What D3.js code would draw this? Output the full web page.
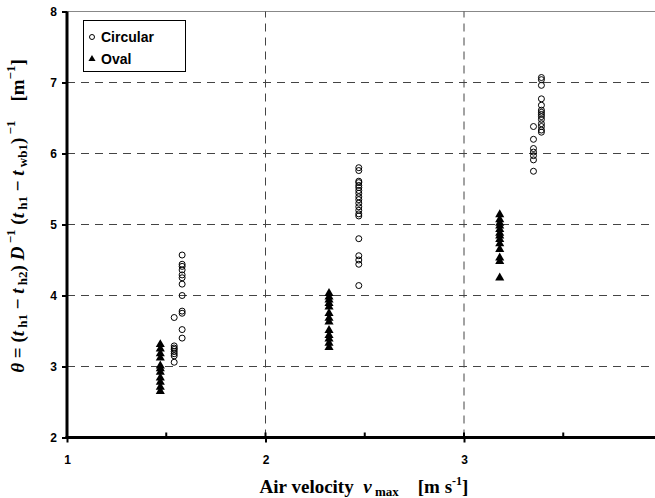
<!DOCTYPE html>
<html>
<head>
<meta charset="utf-8">
<script src="https://cdn.jsdelivr.net/npm/d3@7"></script>
<style>
  body { margin: 0; background: #fff; }
  svg { display: block; }
  text { white-space: pre; }
</style>
</head>
<body>
<svg id="chart"></svg>
<script>
// data
const circularX = [1.58, 1.54, 2.47, 3.39, 3.35];
const circularY = [
  [4.57, 4.44, 4.41, 4.36, 4.29, 4.25, 4.16, 4.00, 3.78, 3.75, 3.52, 3.40],
  [3.69, 3.29, 3.26, 3.24, 3.21, 3.18, 3.15, 3.06],
  [5.80, 5.76, 5.61, 5.59, 5.55, 5.52, 5.48, 5.44, 5.39, 5.35, 5.30, 5.25, 5.20, 5.15, 5.12, 4.80, 4.56, 4.50, 4.44, 4.14],
  [7.07, 7.04, 6.96, 6.77, 6.68, 6.61, 6.58, 6.55, 6.52, 6.48, 6.42, 6.38, 6.33, 6.30],
  [6.38, 6.20, 6.07, 6.02, 5.97, 5.91, 5.75]
];
const ovalX = [1.47, 2.32, 3.18];
const ovalY = [
  [3.31, 3.25, 3.18, 3.12, 3.01, 2.97, 2.92, 2.84, 2.78, 2.71, 2.65],
  [4.03, 3.98, 3.94, 3.89, 3.84, 3.75, 3.68, 3.63, 3.51, 3.44, 3.39, 3.33, 3.27],
  [5.14, 5.07, 5.02, 4.98, 4.93, 4.88, 4.84, 4.79, 4.73, 4.65, 4.53, 4.48, 4.25]
];
const xTicks = [1, 2, 3];
const xMinor = [1.5, 2.5, 3.5];
const yTicks = [2, 3, 4, 5, 6, 7, 8];
const legendLabels = ['Circular', 'Oval'];

const width = 655, height = 498;

const svg = d3.select('#chart')
  .attr('width', width)
  .attr('height', height);

const x = d3.scaleLinear().domain([1, 4]).range([67, 662.5]);
const y = d3.scaleLinear().domain([2, 8]).range([437.5, 11.5]);

// top border
svg.append('line')
  .attr('x1', x(1)).attr('x2', width)
  .attr('y1', y(8)).attr('y2', y(8))
  .attr('stroke', '#888').attr('stroke-width', 1);

// dashed grid
svg.append('g')
  .selectAll('line')
  .data(yTicks.slice(1, -1))
  .enter().append('line')
  .attr('x1', x(1)).attr('x2', width)
  .attr('y1', d => y(d)).attr('y2', d => y(d))
  .attr('stroke', '#444').attr('stroke-width', 1)
  .attr('stroke-dasharray', '8,6');

svg.append('g')
  .selectAll('line')
  .data(xTicks.slice(1))
  .enter().append('line')
  .attr('x1', d => x(d)).attr('x2', d => x(d))
  .attr('y1', y(2)).attr('y2', y(8))
  .attr('stroke', '#444').attr('stroke-width', 1)
  .attr('stroke-dasharray', '8,6');

// axes
const yAxis = svg.append('g')
  .attr('transform', `translate(${x(1)},0)`)
  .call(d3.axisLeft(y).tickValues(yTicks).tickSize(5).tickFormat(d3.format('d')));

const xAxis = svg.append('g')
  .attr('transform', `translate(0,${y(2)})`)
  .call(d3.axisBottom(x).tickValues(xTicks).tickSize(5).tickPadding(13).tickFormat(d3.format('d')));

// minor + major ticks pointing inside
svg.append('g')
  .selectAll('line')
  .data(xMinor.concat(xTicks.slice(1)))
  .enter().append('line')
  .attr('x1', d => x(d)).attr('x2', d => x(d))
  .attr('y1', y(2)).attr('y2', y(2) - 5)
  .attr('stroke', '#000').attr('stroke-width', 2);

[yAxis, xAxis].forEach(g => {
  g.select('.domain').remove();
  g.selectAll('.tick line').attr('stroke-width', 2);
  g.selectAll('.tick text')
    .attr('font-family', 'Liberation Sans, Arial, sans-serif')
    .attr('font-weight', 'bold')
    .attr('font-size', 12)
    .attr('fill', '#000');
});
yAxis.selectAll('.tick text').attr('x', -10);

svg.append('line')
  .attr('x1', x(1)).attr('x2', x(1))
  .attr('y1', y(8)).attr('y2', y(2))
  .attr('stroke', '#000').attr('stroke-width', 3);
svg.append('line')
  .attr('x1', x(1) - 1.5).attr('x2', width)
  .attr('y1', y(2)).attr('y2', y(2))
  .attr('stroke', '#000').attr('stroke-width', 3);

// points
const circPts = [];
circularX.forEach((cx, i) => circularY[i].forEach(v => circPts.push([cx, v])));
const ovalPts = [];
ovalX.forEach((cx, i) => ovalY[i].forEach(v => ovalPts.push([cx, v])));

const tri = d3.symbol().type(d3.symbolTriangle).size(36);

svg.append('g')
  .selectAll('path')
  .data(ovalPts)
  .enter().append('path')
  .attr('d', tri)
  .attr('transform', d => `translate(${x(d[0])},${y(d[1])})`)
  .attr('fill', '#000');

svg.append('g')
  .selectAll('circle')
  .data(circPts)
  .enter().append('circle')
  .attr('cx', d => x(d[0]))
  .attr('cy', d => y(d[1]))
  .attr('r', 3)
  .attr('fill', 'none')
  .attr('stroke', '#000')
  .attr('stroke-width', 1);

// legend
const lg = svg.append('g');
lg.append('rect')
  .attr('x', 83.5).attr('y', 20.5)
  .attr('width', 102).attr('height', 51)
  .attr('fill', '#fff').attr('stroke', '#000').attr('stroke-width', 1);
lg.append('circle')
  .attr('cx', 92).attr('cy', 37).attr('r', 2.5)
  .attr('fill', 'none').attr('stroke', '#000');
lg.append('path')
  .attr('d', d3.symbol().type(d3.symbolTriangle).size(22))
  .attr('transform', 'translate(92,59)')
  .attr('fill', '#000');
lg.selectAll('text')
  .data(legendLabels)
  .enter().append('text')
  .attr('x', 101)
  .attr('y', (d, i) => 42 + i * 22)
  .attr('font-family', 'Liberation Sans, Arial, sans-serif')
  .attr('font-weight', 'bold')
  .attr('font-size', 14)
  .text(d => d);

// x title
const xt = svg.append('text')
  .attr('x', 364).attr('y', 493)
  .attr('text-anchor', 'middle')
  .attr('font-family', 'Liberation Serif, Times New Roman, serif')
  .attr('font-weight', 'bold')
  .attr('font-size', 19);
xt.append('tspan').text('Air velocity  ');
xt.append('tspan').attr('font-style', 'italic').text('v');
xt.append('tspan').attr('font-size', 13).attr('dy', 3).text(' max');
xt.append('tspan').attr('dy', -3).text('    [m s');
xt.append('tspan').attr('font-size', 12).attr('dy', -8).text('-1');
xt.append('tspan').attr('dy', 8).text(']');

// y title
const yt = svg.append('text')
  .attr('transform', 'translate(24,216) rotate(-90)')
  .attr('text-anchor', 'middle')
  .attr('font-family', 'Liberation Serif, Times New Roman, serif')
  .attr('font-weight', 'bold')
  .attr('font-size', 19);
const parts = [
  ['θ', 'i'], [' = (', 'n'], ['t', 'i'], [' h1', 'sub'], [' − ', 'n'], ['t', 'i'], [' h2', 'sub'],
  [') ', 'n'], ['D', 'i'], [' −1', 'sup'], [' (', 'n'], ['t', 'i'], [' h1', 'sub'], [' − ', 'n'],
  ['t', 'i'], [' wb1', 'sub'], [')', 'n'], [' −1', 'sup'], ['    [m', 'n'], ['−1', 'sup'], [']', 'n']
];
let shift = 0;
parts.forEach(([t, k]) => {
  const s = yt.append('tspan').text(t);
  let target = 0;
  if (k === 'i') s.attr('font-style', 'italic');
  if (k === 'sub') { s.attr('font-size', 13); target = 3; }
  if (k === 'sup') { s.attr('font-size', 13); target = -9; }
  s.attr('dy', target - shift);
  shift = target;
});
</script>
</body>
</html>
